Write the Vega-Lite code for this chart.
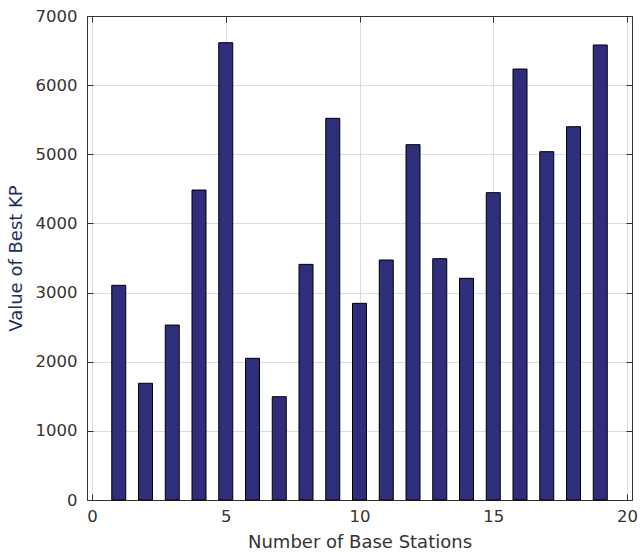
{
  "$schema": "https://vega.github.io/schema/vega-lite/v6.json",
  "width": 545,
  "height": 484,
  "autosize": {"type": "none"},
  "padding": {"left": 87, "top": 16, "right": 12, "bottom": 57},
  "background": "white",
  "config": {
    "view": {"stroke": "#333333", "strokeWidth": 1},
    "font": "DejaVu Sans",
    "axis": {
      "labelFont": "DejaVu Sans",
      "titleFont": "DejaVu Sans",
      "labelFontSize": 16.5,
      "titleFontSize": 18,
      "titleFontWeight": "normal",
      "labelColor": "#333333",
      "titleColor": "#333333",
      "domainColor": "#333333",
      "tickColor": "#333333",
      "gridColor": "#dcdcdc",
      "gridWidth": 1
    }
  },
  "data": {
    "values": [
      {"n": 1, "kp": 3105},
      {"n": 2, "kp": 1688},
      {"n": 3, "kp": 2530},
      {"n": 4, "kp": 4483},
      {"n": 5, "kp": 6614},
      {"n": 6, "kp": 2049},
      {"n": 7, "kp": 1494},
      {"n": 8, "kp": 3408},
      {"n": 9, "kp": 5520},
      {"n": 10, "kp": 2844},
      {"n": 11, "kp": 3471},
      {"n": 12, "kp": 5139},
      {"n": 13, "kp": 3490},
      {"n": 14, "kp": 3206},
      {"n": 15, "kp": 4445},
      {"n": 16, "kp": 6233},
      {"n": 17, "kp": 5038},
      {"n": 18, "kp": 5399},
      {"n": 19, "kp": 6581}
    ]
  },
  "layer": [
    {
      "mark": {"type": "bar", "size": 14, "color": "#2e2e7a", "stroke": "#000000", "strokeWidth": 1},
      "encoding": {
        "x": {
          "field": "n", "type": "quantitative",
          "scale": {"domain": [0, 20], "nice": false, "zero": true},
          "axis": {"values": [0, 5, 10, 15, 20], "format": "d", "title": "Number of Base Stations", "tickSize": -6, "labelPadding": 14, "titlePadding": 9, "labelFlush": false, "grid": true}
        },
        "y": {
          "field": "kp", "type": "quantitative",
          "scale": {"domain": [0, 7000], "nice": false},
          "axis": {"values": [0, 1000, 2000, 3000, 4000, 5000, 6000, 7000], "format": "d", "title": "Value of Best KP", "titleColor": "#1c3060", "tickSize": -6, "labelPadding": 16, "titlePadding": 10, "labelFlush": false, "grid": true}
        }
      }
    },
    {
      "mark": {"type": "bar", "size": 14, "opacity": 0},
      "encoding": {
        "x": {
          "field": "n", "type": "quantitative",
          "axis": {"orient": "top", "values": [0, 5, 10, 15, 20], "labels": false, "title": null, "tickSize": -6, "grid": false}
        },
        "y": {
          "field": "kp", "type": "quantitative",
          "axis": {"orient": "right", "values": [0, 1000, 2000, 3000, 4000, 5000, 6000, 7000], "labels": false, "title": null, "tickSize": -6, "grid": false}
        }
      }
    }
  ],
  "resolve": {"axis": {"x": "independent", "y": "independent"}}
}
